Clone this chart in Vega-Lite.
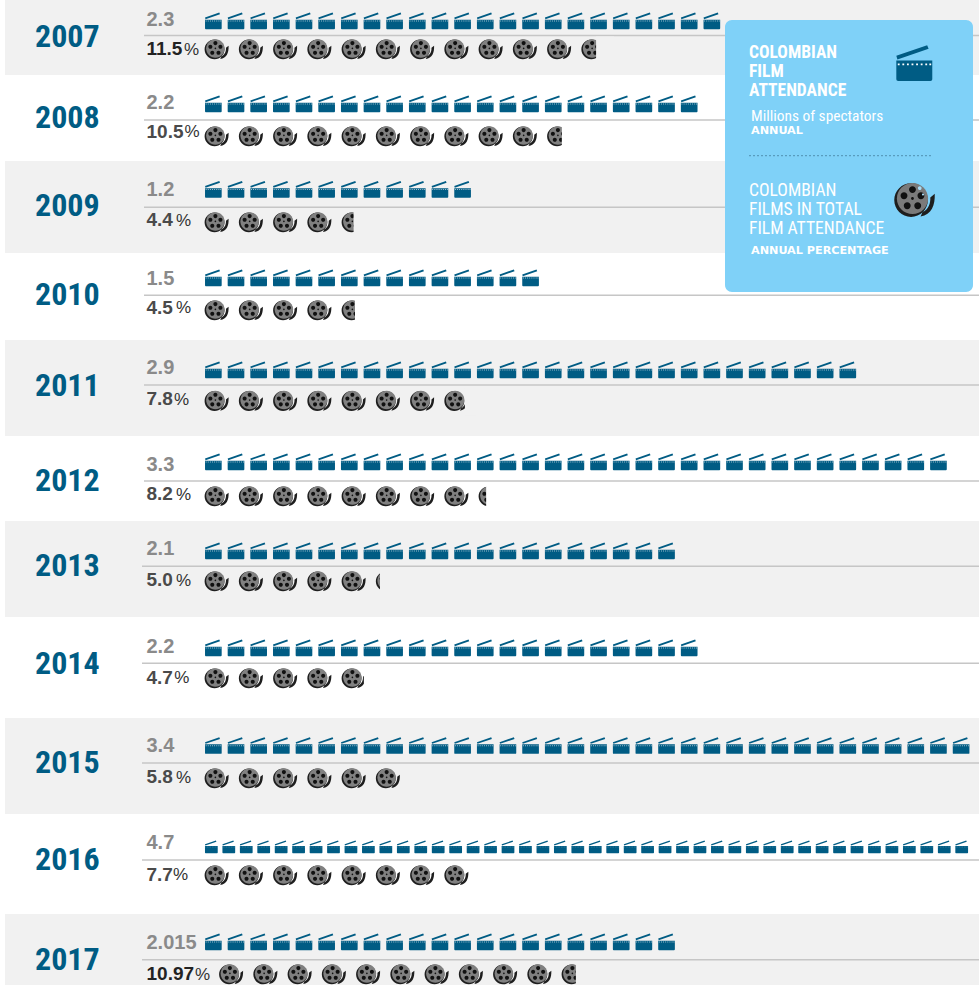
{
"$schema":"https://vega.github.io/schema/vega-lite/v6.json",
"width":979,"height":985,"padding":0,"autosize":{"type":"none"},"background":"#ffffff",
"config":{"view":{"stroke":null}},
"datasets":{
"years":[
{"year":2007,"attendance":"2.3","share":"11.5","shade":"grey","from":2006.5,"to":2007.5,"cut":12.08,"maskEnd":12.6},
{"year":2008,"attendance":"2.2","share":"10.5","shade":"white","from":2007.5,"to":2008.5,"cut":11.08,"maskEnd":11.6},
{"year":2009,"attendance":"1.2","share":"4.4","shade":"grey","from":2008.5,"to":2009.5,"cut":5.0,"maskEnd":5.6},
{"year":2010,"attendance":"1.5","share":"4.5","shade":"white","from":2009.5,"to":2010.5,"cut":5.04,"maskEnd":5.6},
{"year":2011,"attendance":"2.9","share":"7.8","shade":"grey","from":2010.5,"to":2011.5,"cut":8.25,"maskEnd":8.6},
{"year":2012,"attendance":"3.3","share":"8.2","shade":"white","from":2011.5,"to":2012.5,"cut":8.87,"maskEnd":9.6},
{"year":2013,"attendance":"2.1","share":"5.0","shade":"grey","from":2012.5,"to":2013.5,"cut":5.77,"maskEnd":6.6},
{"year":2014,"attendance":"2.2","share":"4.7","shade":"white","from":2013.5,"to":2014.5,"cut":5.3,"maskEnd":5.6},
{"year":2015,"attendance":"3.4","share":"5.8","shade":"grey","from":2014.5,"to":2015.5,"cut":6.6,"maskEnd":6.6},
{"year":2016,"attendance":"4.7","share":"7.7","shade":"white","from":2015.5,"to":2016.5,"cut":8.6,"maskEnd":8.6},
{"year":2017,"attendance":"2.015","share":"10.97","shade":"grey","from":2016.5,"to":2017.5,"cut":11.49,"maskEnd":12.0}
],
"clappers":[
{"year":2007,"unit":[1,2,3,4,5,6,7,8,9,10,11,12,13,14,15,16,17,18,19,20,21,22,23]},
{"year":2008,"unit":[1,2,3,4,5,6,7,8,9,10,11,12,13,14,15,16,17,18,19,20,21,22]},
{"year":2009,"unit":[1,2,3,4,5,6,7,8,9,10,11,12]},
{"year":2010,"unit":[1,2,3,4,5,6,7,8,9,10,11,12,13,14,15]},
{"year":2011,"unit":[1,2,3,4,5,6,7,8,9,10,11,12,13,14,15,16,17,18,19,20,21,22,23,24,25,26,27,28,29]},
{"year":2012,"unit":[1,2,3,4,5,6,7,8,9,10,11,12,13,14,15,16,17,18,19,20,21,22,23,24,25,26,27,28,29,30,31,32,33]},
{"year":2013,"unit":[1,2,3,4,5,6,7,8,9,10,11,12,13,14,15,16,17,18,19,20,21]},
{"year":2014,"unit":[1,2,3,4,5,6,7,8,9,10,11,12,13,14,15,16,17,18,19,20,21,22]},
{"year":2015,"unit":[1,2,3,4,5,6,7,8,9,10,11,12,13,14,15,16,17,18,19,20,21,22,23,24,25,26,27,28,29,30,31,32,33,34]},
{"year":2016,"unit":[1,2,3,4,5,6,7,8,9,10,11,12,13,14,15,16,17,18,19,20,21,22,23,24,25,26,27,28,29,30,31,32,33,34,35,36,37,38,39,40,41,42,43,44]},
{"year":2017,"unit":[1,2,3,4,5,6,7,8,9,10,11,12,13,14,15,16,17,18,19,20,21]}
],
"reels":[
{"year":2007,"unit":[1,2,3,4,5,6,7,8,9,10,11,12]},
{"year":2008,"unit":[1,2,3,4,5,6,7,8,9,10,11]},
{"year":2009,"unit":[1,2,3,4,5]},
{"year":2010,"unit":[1,2,3,4,5]},
{"year":2011,"unit":[1,2,3,4,5,6,7,8]},
{"year":2012,"unit":[1,2,3,4,5,6,7,8,9]},
{"year":2013,"unit":[1,2,3,4,5,6]},
{"year":2014,"unit":[1,2,3,4,5]},
{"year":2015,"unit":[1,2,3,4,5,6]},
{"year":2016,"unit":[1,2,3,4,5,6,7,8]},
{"year":2017,"unit":[1,2,3,4,5,6,7,8,9,10,11]}
],
"keyText":[
{"line":1,"text":"COLOMBIAN","kind":"head"},{"line":2,"text":"FILM","kind":"head"},{"line":3,"text":"ATTENDANCE","kind":"head"},
{"line":4,"text":"Millions of spectators","kind":"sub"},{"line":5,"text":"ANNUAL","kind":"small"},
{"line":6,"text":"COLOMBIAN","kind":"head2"},{"line":7,"text":"FILMS IN TOTAL","kind":"head2"},{"line":8,"text":"FILM ATTENDANCE","kind":"head2"},
{"line":9,"text":"ANNUAL PERCENTAGE","kind":"small"}
]
},
"resolve":{"scale":{"x":"independent","y":"independent"}},
"layer":[
{"data":{"name":"years"},"transform":[{"filter":"datum.shade==='grey'"}],
 "mark":{"type":"rect","color":"#f1f1f1"},
 "encoding":{
  "x":{"datum":5,"type":"quantitative","scale":{"domain":[0,979],"range":[0,979]},"axis":null},
  "x2":{"datum":979},
  "y":{"field":"from","type":"quantitative","axis":null,"scale":{"domain":[2006.5,2007.5,2008.5,2009.5,2010.5,2011.5,2012.5,2013.5,2014.5,2015.5,2016.5,2017.5],"range":[0,75,161,253,340,436,521,617,718,814,914,985]}},
  "y2":{"field":"to"}}},
{"data":{"name":"years"},
 "mark":{"type":"rule","color":"#c6c6c6","strokeWidth":1.5},
 "encoding":{
  "x":{"field":"year","type":"quantitative","axis":null,"scale":{"domain":[2007,2012,2013,2017],"range":[144,144,142,142]}},
  "x2":{"value":979},
  "y":{"field":"year","type":"quantitative","axis":null,"scale":{"domain":[2007,2008,2009,2010,2011,2012,2013,2014,2015,2016,2017],"range":[35.6,120,207.3,295.3,385,481,566.3,663.3,763,860,959.7]}}}},
{"data":{"name":"years"},
 "mark":{"type":"text","font":"Roboto Condensed, DejaVu Sans Condensed, sans-serif","fontWeight":"bold","fontSize":32,"align":"left","baseline":"middle","color":"#005c84"},
 "encoding":{
  "text":{"field":"year","type":"nominal"},
  "x":{"datum":35,"type":"quantitative","scale":{"domain":[0,979],"range":[0,979]},"axis":null},
  "y":{"field":"year","type":"quantitative","axis":null,"scale":{"domain":[2007,2008,2009,2010,2011,2012,2013,2014,2015,2016,2017],"range":[36.5,118,206.3,295.3,385.5,480.5,566.3,663.5,763,860,960]}}}},
{"data":{"name":"years"},
 "mark":{"type":"text","font":"Liberation Sans","fontWeight":"bold","fontSize":20,"align":"left","baseline":"middle","color":"#8a8a8a"},
 "encoding":{
  "text":{"field":"attendance","type":"nominal"},
  "x":{"datum":146.5,"type":"quantitative","scale":{"domain":[0,979],"range":[0,979]},"axis":null},
  "y":{"field":"year","type":"quantitative","axis":null,"scale":{"domain":[2007,2008,2009,2010,2011,2012,2013,2014,2015,2016,2017],"range":[20,102.5,189.5,279,368,465,549,646.5,746,843,943]}}}},
{"data":{"name":"years"},
 "mark":{"type":"text","font":"Liberation Sans","fontWeight":"bold","fontSize":19,"align":"left","baseline":"middle"},
 "encoding":{
  "text":{"field":"share","type":"nominal"},
  "color":{"condition":{"test":"datum.year===2007||datum.year===2017","value":"#222222"},"value":"#4a4a4a"},
  "x":{"datum":146.5,"type":"quantitative","scale":{"domain":[0,979],"range":[0,979]},"axis":null},
  "y":{"field":"year","type":"quantitative","axis":null,"scale":{"domain":[2007,2008,2009,2010,2011,2012,2013,2014,2015,2016,2017],"range":[48.7,131.5,220,307.5,399,494,580,677.5,777,874.5,974]}}}},
{"data":{"name":"years"},
 "mark":{"type":"text","text":"%","font":"Liberation Sans","fontSize":17,"align":"left","baseline":"middle","color":"#333333"},
 "encoding":{
  "x":{"field":"year","type":"quantitative","axis":null,"scale":{"domain":[2007,2008,2009,2010,2011,2012,2013,2014,2015,2016,2017],"range":[184,184.5,176,176,174,176,176,174.3,176,173,195]}},
  "y":{"field":"year","type":"quantitative","axis":null,"scale":{"domain":[2007,2008,2009,2010,2011,2012,2013,2014,2015,2016,2017],"range":[49.5,132.3,220.8,308.3,399.8,494.8,580.8,678.3,777.8,875.3,974.8]}}}},
{"data":{"name":"clappers"},
 "transform":[{"filter":"datum.year!==2016"},{"flatten":["unit"]}],
 "mark":{"type":"point","filled":true,"opacity":1,"size":289,"color":"#005c84","shape":"M-.98 -.16H.98V.86Q.98 .96 .88 .96H-.88Q-.98 .96 -.98 .86ZM-.98 -.42L.7 -1L.78 -.8L-.92 -.22Z"},
 "encoding":{
  "x":{"field":"unit","type":"quantitative","axis":null,"scale":{"domain":[1,34],"range":[213.35,961.1]}},
  "y":{"field":"year","type":"quantitative","axis":null,"scale":{"domain":[2007,2008,2009,2010,2011,2012,2013,2014,2015,2016,2017],"range":[21,104,189.5,278,370,462,551,648,745.7,847,942]}}}},
{"data":{"name":"clappers"},
 "transform":[{"filter":"datum.year!==2016"},{"flatten":["unit"]}],
 "mark":{"type":"point","filled":true,"opacity":0.7,"size":289,"color":"#ffffff","shape":"M-.9 -.05h.1v.1h-.1ZM-.65 -.05h.1v.1h-.1ZM-.4 -.05h.1v.1h-.1ZM-.15 -.05h.1v.1h-.1ZM.1 -.05h.1v.1h-.1ZM.35 -.05h.1v.1h-.1ZM.6 -.05h.1v.1h-.1ZM.82 -.05h.1v.1h-.1Z"},
 "encoding":{
  "x":{"field":"unit","type":"quantitative","axis":null,"scale":{"domain":[1,34],"range":[213.35,961.1]}},
  "y":{"field":"year","type":"quantitative","axis":null,"scale":{"domain":[2007,2008,2009,2010,2011,2012,2013,2014,2015,2016,2017],"range":[21,104,189.5,278,370,462,551,648,745.7,847,942]}}}},
{"data":{"name":"clappers"},
 "transform":[{"filter":"datum.year===2016"},{"flatten":["unit"]}],
 "mark":{"type":"point","filled":true,"opacity":1,"size":169,"color":"#005c84","shape":"M-.98 -.16H.98V.86Q.98 .96 .88 .96H-.88Q-.98 .96 -.98 .86ZM-.98 -.42L.7 -1L.78 -.8L-.92 -.22Z"},
 "encoding":{
  "x":{"field":"unit","type":"quantitative","axis":null,"scale":{"domain":[1,44],"range":[211.35,961.7]}},
  "y":{"field":"year","type":"quantitative","axis":null,"scale":{"domain":[2007,2008,2009,2010,2011,2012,2013,2014,2015,2016,2017],"range":[21,104,189.5,278,370,462,551,648,745.7,847,942]}}}},
{"data":{"name":"clappers"},
 "transform":[{"filter":"datum.year===2016"},{"flatten":["unit"]}],
 "mark":{"type":"point","filled":true,"opacity":0.5,"size":169,"color":"#ffffff","shape":"M-.9 -.05h.1v.1h-.1ZM-.65 -.05h.1v.1h-.1ZM-.4 -.05h.1v.1h-.1ZM-.15 -.05h.1v.1h-.1ZM.1 -.05h.1v.1h-.1ZM.35 -.05h.1v.1h-.1ZM.6 -.05h.1v.1h-.1ZM.82 -.05h.1v.1h-.1Z"},
 "encoding":{
  "x":{"field":"unit","type":"quantitative","axis":null,"scale":{"domain":[1,44],"range":[211.35,961.7]}},
  "y":{"field":"year","type":"quantitative","axis":null,"scale":{"domain":[2007,2008,2009,2010,2011,2012,2013,2014,2015,2016,2017],"range":[21,104,189.5,278,370,462,551,648,745.7,847,942]}}}},
{"data":{"name":"reels"},
 "transform":[{"flatten":["unit"]},{"calculate":"datum.unit+(datum.year===2017?0.423:0)","as":"slot"}],
 "mark":{"type":"point","filled":true,"opacity":1,"size":576,"color":"#1e1e1e","shape":"M-1 .03A.83 .83 0 1 0 .66 .03A.83 .83 0 1 0 -1 .03ZM.4 .62C.7 .5 .8 .15 .78 -.1L1 -.28C1.02 .3 .85 .75 .3 .84Z"},
 "encoding":{
  "x":{"field":"slot","type":"quantitative","axis":null,"scale":{"domain":[1,12],"range":[216.6,593.35]}},
  "y":{"field":"year","type":"quantitative","axis":null,"scale":{"domain":[2007,2008,2009,2010,2011,2012,2013,2014,2015,2016,2017],"range":[49,136,222,310,400.7,496,581,678,778,875,974]}}}},
{"data":{"name":"reels"},
 "transform":[{"flatten":["unit"]},{"calculate":"datum.unit+(datum.year===2017?0.423:0)","as":"slot"}],
 "mark":{"type":"point","filled":true,"opacity":1,"size":576,"color":"#808080","shape":"M-.87 -.05A.77 .77 0 1 0 .67 -.05A.77 .77 0 1 0 -.87 -.05Z"},
 "encoding":{
  "x":{"field":"slot","type":"quantitative","axis":null,"scale":{"domain":[1,12],"range":[216.6,593.35]}},
  "y":{"field":"year","type":"quantitative","axis":null,"scale":{"domain":[2007,2008,2009,2010,2011,2012,2013,2014,2015,2016,2017],"range":[49,136,222,310,400.7,496,581,678,778,875,974]}}}},
{"data":{"name":"reels"},
 "transform":[{"flatten":["unit"]},{"calculate":"datum.unit+(datum.year===2017?0.423:0)","as":"slot"}],
 "mark":{"type":"point","filled":true,"opacity":1,"size":576,"color":"#111111","shape":"M-.27 -.49a.17 .17 0 1 0 .34 0a.17 .17 0 1 0 -.34 0ZM.148 -.186a.17 .17 0 1 0 .34 0a.17 .17 0 1 0 -.34 0ZM-.011 .306a.17 .17 0 1 0 .34 0a.17 .17 0 1 0 -.34 0ZM-.529 .306a.17 .17 0 1 0 .34 0a.17 .17 0 1 0 -.34 0ZM-.688 -.186a.17 .17 0 1 0 .34 0a.17 .17 0 1 0 -.34 0ZM-.17 -.05a.07 .07 0 1 0 .14 0a.07 .07 0 1 0 -.14 0Z"},
 "encoding":{
  "x":{"field":"slot","type":"quantitative","axis":null,"scale":{"domain":[1,12],"range":[216.6,593.35]}},
  "y":{"field":"year","type":"quantitative","axis":null,"scale":{"domain":[2007,2008,2009,2010,2011,2012,2013,2014,2015,2016,2017],"range":[49,136,222,310,400.7,496,581,678,778,875,974]}}}},
{"data":{"name":"years"},
 "mark":{"type":"rect","height":27},
 "encoding":{
  "color":{"field":"shade","type":"nominal","legend":null,"scale":{"domain":["grey","white"],"range":["#f1f1f1","#ffffff"]}},
  "x":{"field":"cut","type":"quantitative","axis":null,"scale":{"domain":[1,12],"range":[216.6,593.35]}},
  "x2":{"field":"maskEnd"},
  "y":{"field":"year","type":"quantitative","axis":null,"scale":{"domain":[2007,2008,2009,2010,2011,2012,2013,2014,2015,2016,2017],"range":[50,137,223,311,401.7,497,582,679,779,876,975]}}}},
{"data":{"values":[{"card":"key"}]},
 "mark":{"type":"rect","color":"#7fd1f8","cornerRadius":7},
 "encoding":{
  "x":{"datum":725,"type":"quantitative","axis":null,"scale":{"domain":[0,979],"range":[0,979]}},
  "x2":{"datum":973},
  "y":{"datum":20,"type":"quantitative","axis":null,"scale":{"domain":[0,985],"range":[0,985]}},
  "y2":{"datum":292}}},
{"data":{"values":[{"card":"divider"}]},
 "mark":{"type":"rule","color":"#4f8fb0","strokeWidth":1,"strokeDash":[2,2]},
 "encoding":{
  "x":{"datum":749,"type":"quantitative","axis":null,"scale":{"domain":[0,979],"range":[0,979]}},
  "x2":{"datum":932},
  "y":{"datum":155.7,"type":"quantitative","axis":null,"scale":{"domain":[0,985],"range":[0,985]}}}},
{"data":{"name":"keyText"},"transform":[{"filter":"datum.kind==='head'"}],
 "mark":{"type":"text","font":"Roboto Condensed, DejaVu Sans Condensed, sans-serif","fontWeight":"bold","fontSize":17.5,"align":"left","baseline":"middle","color":"#ffffff"},
 "encoding":{
  "text":{"field":"text"},
  "x":{"datum":749,"type":"quantitative","axis":null,"scale":{"domain":[0,979],"range":[0,979]}},
  "y":{"field":"line","type":"quantitative","axis":null,"scale":{"domain":[1,2,3],"range":[52.5,71.5,90.5]}}}},
{"data":{"name":"keyText"},"transform":[{"filter":"datum.kind==='head2'"}],
 "mark":{"type":"text","font":"Roboto Condensed, DejaVu Sans Condensed, sans-serif","fontSize":17.6,"align":"left","baseline":"middle","color":"#ffffff"},
 "encoding":{
  "text":{"field":"text"},
  "x":{"datum":749,"type":"quantitative","axis":null,"scale":{"domain":[0,979],"range":[0,979]}},
  "y":{"field":"line","type":"quantitative","axis":null,"scale":{"domain":[6,7,8],"range":[190.5,209.5,228.5]}}}},
{"data":{"name":"keyText"},"transform":[{"filter":"datum.kind==='sub'"}],
 "mark":{"type":"text","font":"Roboto Condensed, DejaVu Sans Condensed, sans-serif","fontSize":15.4,"align":"left","baseline":"middle","color":"#ffffff"},
 "encoding":{
  "text":{"field":"text"},
  "x":{"datum":751,"type":"quantitative","axis":null,"scale":{"domain":[0,979],"range":[0,979]}},
  "y":{"datum":115.5,"type":"quantitative","axis":null,"scale":{"domain":[0,985],"range":[0,985]}}}},
{"data":{"name":"keyText"},"transform":[{"filter":"datum.kind==='small'"}],
 "mark":{"type":"text","font":"DejaVu Sans","fontWeight":"bold","fontSize":11.2,"align":"left","baseline":"middle","color":"#ffffff"},
 "encoding":{
  "text":{"field":"text"},
  "x":{"datum":751,"type":"quantitative","axis":null,"scale":{"domain":[0,979],"range":[0,979]}},
  "y":{"field":"line","type":"quantitative","axis":null,"scale":{"domain":[5,9],"range":[130.5,250.5]}}}},
{"data":{"values":[{"icon":"clapper"}]},
 "mark":{"type":"point","filled":true,"opacity":1,"size":1347,"color":"#005c84","shape":"M-.98 -.16H.98V.86Q.98 .96 .88 .96H-.88Q-.98 .96 -.98 .86ZM-.98 -.42L.7 -1L.78 -.8L-.92 -.22Z"},
 "encoding":{
  "x":{"datum":914.3,"type":"quantitative","axis":null,"scale":{"domain":[0,979],"range":[0,979]}},
  "y":{"datum":63.5,"type":"quantitative","axis":null,"scale":{"domain":[0,985],"range":[0,985]}}}},
{"data":{"values":[{"icon":"clapper"}]},
 "mark":{"type":"point","filled":true,"opacity":1,"size":1347,"color":"#ffffff","shape":"M-.9 0h.1v.1h-.1ZM-.65 0h.1v.1h-.1ZM-.4 0h.1v.1h-.1ZM-.15 0h.1v.1h-.1ZM.1 0h.1v.1h-.1ZM.35 0h.1v.1h-.1ZM.6 0h.1v.1h-.1ZM.82 0h.1v.1h-.1Z"},
 "encoding":{
  "x":{"datum":914.3,"type":"quantitative","axis":null,"scale":{"domain":[0,979],"range":[0,979]}},
  "y":{"datum":63.5,"type":"quantitative","axis":null,"scale":{"domain":[0,985],"range":[0,985]}}}},
{"data":{"values":[{"icon":"reel"}]},
 "mark":{"type":"point","filled":true,"opacity":1,"size":1640,"color":"#1e1e1e","shape":"M-1 .03A.83 .83 0 1 0 .66 .03A.83 .83 0 1 0 -1 .03ZM.4 .62C.7 .5 .8 .15 .78 -.1L1 -.28C1.02 .3 .85 .75 .3 .84Z"},
 "encoding":{
  "x":{"datum":914.5,"type":"quantitative","axis":null,"scale":{"domain":[0,979],"range":[0,979]}},
  "y":{"datum":199.5,"type":"quantitative","axis":null,"scale":{"domain":[0,985],"range":[0,985]}}}},
{"data":{"values":[{"icon":"reel"}]},
 "mark":{"type":"point","filled":true,"opacity":1,"size":1640,"color":"#7a7a7a","shape":"M-.87 -.05A.77 .77 0 1 0 .67 -.05A.77 .77 0 1 0 -.87 -.05Z"},
 "encoding":{
  "x":{"datum":914.5,"type":"quantitative","axis":null,"scale":{"domain":[0,979],"range":[0,979]}},
  "y":{"datum":199.5,"type":"quantitative","axis":null,"scale":{"domain":[0,985],"range":[0,985]}}}},
{"data":{"values":[{"icon":"reel"}]},
 "mark":{"type":"point","filled":true,"opacity":1,"size":1640,"color":"#111111","shape":"M-.27 -.49a.17 .17 0 1 0 .34 0a.17 .17 0 1 0 -.34 0ZM.148 -.186a.17 .17 0 1 0 .34 0a.17 .17 0 1 0 -.34 0ZM-.011 .306a.17 .17 0 1 0 .34 0a.17 .17 0 1 0 -.34 0ZM-.529 .306a.17 .17 0 1 0 .34 0a.17 .17 0 1 0 -.34 0ZM-.688 -.186a.17 .17 0 1 0 .34 0a.17 .17 0 1 0 -.34 0ZM-.17 -.05a.07 .07 0 1 0 .14 0a.07 .07 0 1 0 -.14 0Z"},
 "encoding":{
  "x":{"datum":914.5,"type":"quantitative","axis":null,"scale":{"domain":[0,979],"range":[0,979]}},
  "y":{"datum":199.5,"type":"quantitative","axis":null,"scale":{"domain":[0,985],"range":[0,985]}}}},
{"data":{"values":[{"icon":"reel"}]},
 "mark":{"type":"point","filled":true,"opacity":1,"size":1640,"color":"#a8dcf6","shape":"M.17 -.56a.09 .09 0 1 0 .18 0a.09 .09 0 1 0 -.18 0ZM.37 -.25a.05 .05 0 1 0 .1 0a.05 .05 0 1 0 -.1 0Z"},
 "encoding":{
  "x":{"datum":914.5,"type":"quantitative","axis":null,"scale":{"domain":[0,979],"range":[0,979]}},
  "y":{"datum":199.5,"type":"quantitative","axis":null,"scale":{"domain":[0,985],"range":[0,985]}}}}
]
}
